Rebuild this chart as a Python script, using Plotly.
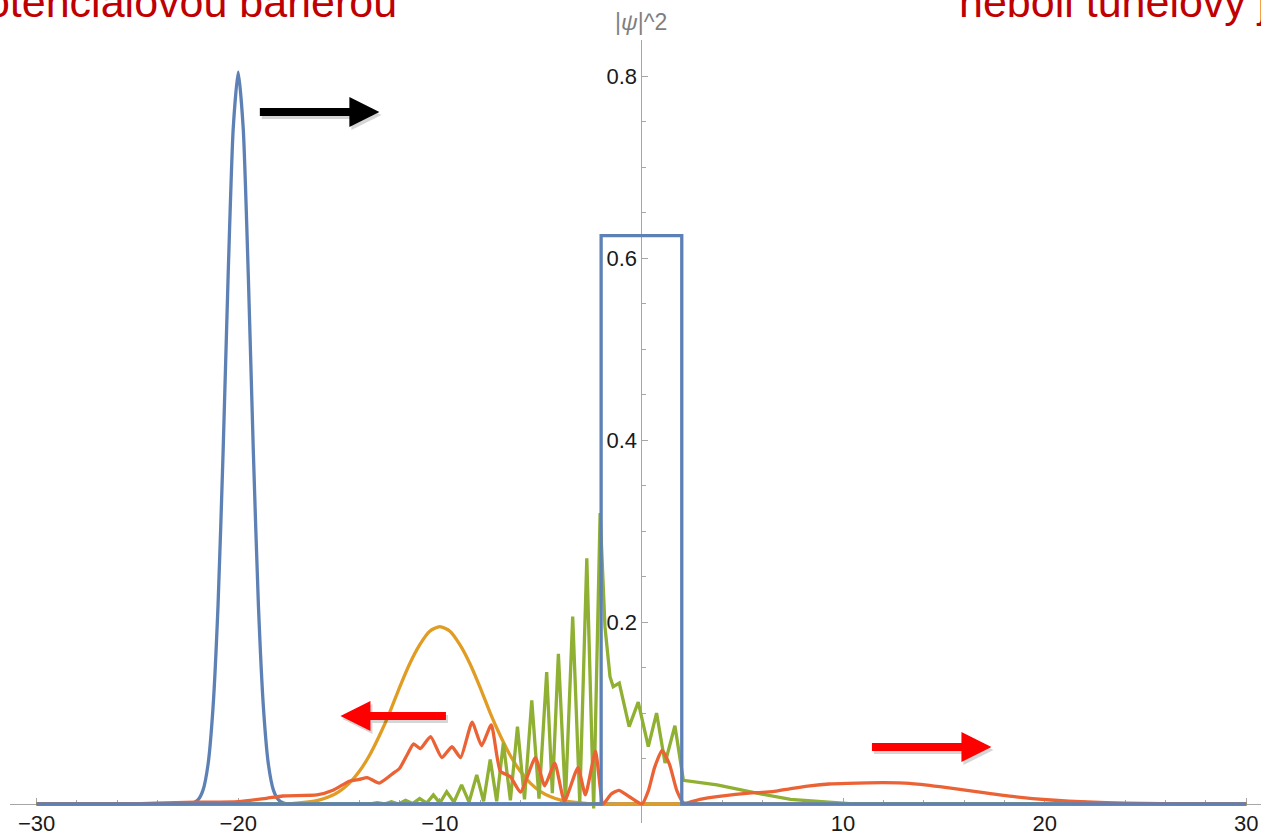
import plotly.graph_objects as go

# ---------------- data ----------------
# initial wave packet |psi|^2 (blue)
packet0_x = [-30, -24, -22.5, -22.25, -22.0, -21.75, -21.5, -21.25, -21.0, -20.75, -20.5,
             -20.25, -20.0, -19.75, -19.5, -19.25, -19.0, -18.75, -18.5, -18.25, -18.0,
             -17.75, -17.5, -16, 30]
packet0_y = [0, 0, 0, 0.001, 0.0044, 0.015, 0.043, 0.106, 0.219, 0.387, 0.581,
             0.742, 0.805, 0.742, 0.581, 0.387, 0.219, 0.106, 0.043, 0.015, 0.0044,
             0.001, 0, 0, 0]

# potential barrier (blue)
barrier_x = [-30, -2, -2, 2, 2, 30]
barrier_y = [0, 0, 0.625, 0.625, 0, 0]

# packet approaching the barrier (orange)
packet1_x = [-30, -19, -17.5, -17, -16.5, -16, -15.5, -15, -14.5, -14, -13.5, -13, -12.5,
             -12, -11.5, -11, -10.5, -10, -9.5, -9, -8.5, -8, -7.5, -7, -6.5, -6, -5.5,
             -5, -4.5, -4, -3.5, -3, -2.5, -1, 30]
packet1_y = [0, 0, 0, 0.0011, 0.0022, 0.0043, 0.0079, 0.0137, 0.0227, 0.0357, 0.053, 0.075,
             0.100, 0.128, 0.154, 0.175, 0.190, 0.195, 0.190, 0.175, 0.154, 0.128, 0.100,
             0.075, 0.053, 0.0357, 0.0227, 0.0137, 0.0079, 0.0043, 0.0022, 0.0011, 0, 0, 0]

# packet hitting the barrier (green)
packet2_x = [-30, -14, -13.45, -13.1, -12.75, -12.4, -12.05, -11.7, -11.35, -11.0, -10.65,
             -10.32, -10.0, -9.66, -9.3, -8.92, -8.55, -8.17, -7.83, -7.5, -7.18, -6.85,
             -6.5, -6.15, -5.8, -5.44, -5.08, -4.70, -4.42, -4.12, -3.77, -3.41, -3.06,
             -2.71, -2.37, -2.05, -1.81, -1.56, -1.40, -1.10, -0.61, -0.16, 0.34, 0.75,
             1.17, 1.66, 2.08, 3.75, 5.6, 7.4, 9.3, 10.5, 30]
packet2_y = [0, 0, 0, 0.0015, 0, 0.0025, 0, 0.004, 0.0005, 0.006, 0.001,
             0.010, 0.001, 0.0135, 0.002, 0.021, 0.002, 0.032, 0.003, 0.049, 0.003, 0.067,
             0.004, 0.085, 0.005, 0.114, 0.006, 0.145, 0.012, 0.165, 0.004, 0.206, 0.002,
             0.270, -0.005, 0.320, 0.195, 0.140, 0.129, 0.133, 0.085, 0.112, 0.063, 0.100,
             0.045, 0.086, 0.026, 0.021, 0.0124, 0.005, 0.0015, 0, 0]

# reflected and transmitted packets (red)
packet3_x = [-30, -25.5, -24.1, -22.1, -20.0, -18.6, -17.8, -16.1, -15.3, -14.5, -14.0,
             -13.6, -13.0, -12.3, -12.0, -11.6, -11.3, -10.96, -10.46, -9.9, -9.4, -8.97,
             -8.4, -7.93, -7.45, -7.0, -6.5, -6.0, -5.26, -4.8, -4.3, -3.82, -3.15, -2.78,
             -2.28, -1.9, -1.5, -1.12, -0.6, 0.03, 0.35, 0.65, 1.02, 1.4, 1.75, 2.1, 2.9,
             3.75, 5.6, 6.5, 7.4, 8.35, 9.3, 10.2, 12.0, 13.3, 14.8, 16.6, 18.5, 20.3,
             22.1, 24.0, 25.8, 27.5, 30]
packet3_y = [0, 0, 0.0008, 0.0019, 0.0027, 0.0062, 0.0088, 0.0099, 0.015, 0.025, 0.027,
             0.029, 0.023, 0.034, 0.039, 0.055, 0.066, 0.061, 0.074, 0.051, 0.063, 0.051,
             0.090, 0.064, 0.087, 0.036, 0.030, 0.013, 0.051, 0.020, 0.045, 0.003, 0.040, 0.010,
             0.058, 0.0, 0.011, 0.015, 0.008, 0.0, 0.015, 0.040, 0.059, 0.043, 0.015, 0.001, 0.005,
             0.008, 0.0124, 0.0135, 0.017, 0.020, 0.022, 0.0227, 0.0234, 0.0227, 0.019, 0.0135, 0.008, 0.0044,
             0.0022, 0.001, 0.0003, 0, 0]

x_ticks = [-30, -20, -10, 10, 20, 30]
y_ticks = [0.2, 0.4, 0.6, 0.8]
y_title = "|<i>ψ</i>|^2"
text_left = "potenciálovou bariérou"
text_right = "neboli tunelový jev"

# ---------------- styles ----------------
BLUE = "#5E81B5"
ORANGE = "#E19C24"
GREEN = "#8FB032"
RED = "#EB6235"
AX = "#a6a6a6"
LW = 3.3
FONT = "Liberation Sans, Arial, sans-serif"

fig = go.Figure()
fig.add_trace(go.Scatter(x=packet0_x, y=packet0_y, mode="lines",
                         line=dict(color=BLUE, width=LW, shape="spline", smoothing=0.6)))
fig.add_trace(go.Scatter(x=packet1_x, y=packet1_y, mode="lines",
                         line=dict(color=ORANGE, width=LW, shape="spline", smoothing=0.6)))
fig.add_trace(go.Scatter(x=packet2_x, y=packet2_y, mode="lines",
                         line=dict(color=GREEN, width=LW)))
fig.add_trace(go.Scatter(x=packet3_x, y=packet3_y, mode="lines",
                         line=dict(color=RED, width=LW, shape="spline", smoothing=0.5)))
fig.add_trace(go.Scatter(x=barrier_x, y=barrier_y, mode="lines",
                         line=dict(color=BLUE, width=LW)))

W, H = 1261, 835
ml, mr, mt, mb = 10, 0, 40, 12
plot_h = H - mt - mb
x_range = [-31.32, 30.73]
y_range = [-0.0209, 0.840]
x_axis_pos = (0 - y_range[0]) / (y_range[1] - y_range[0])
y_axis_pos = (0 - x_range[0]) / (x_range[1] - x_range[0])

fig.update_layout(
    width=W, height=H,
    margin=dict(l=ml, r=mr, t=mt, b=mb, pad=0),
    paper_bgcolor="white", plot_bgcolor="white",
    showlegend=False,
    font=dict(family=FONT, size=22, color="#1a1a1a"),
    xaxis=dict(range=x_range, domain=[0, 1], anchor="free", position=x_axis_pos,
               showline=True, linecolor=AX, linewidth=1, zeroline=False, showgrid=False,
               ticks="inside", ticklen=6, tickwidth=1, tickcolor=AX,
               tickmode="array", tickvals=x_ticks,
               tickfont=dict(family=FONT, size=22, color="#1a1a1a"),
               minor=dict(tickmode="linear", tick0=0, dtick=2, ticks="inside",
                          ticklen=3.5, tickcolor=AX, showgrid=False),
               layer="below traces", fixedrange=True),
    yaxis=dict(range=y_range, domain=[0, 1], anchor="free", position=y_axis_pos,
               side="left",
               showline=True, linecolor=AX, linewidth=1, zeroline=False, showgrid=False,
               ticks="inside", ticklen=6, tickwidth=1, tickcolor=AX,
               tickmode="array", tickvals=y_ticks,
               tickfont=dict(family=FONT, size=22, color="#1a1a1a"),
               minor=dict(tickmode="linear", tick0=0, dtick=0.05, ticks="inside",
                          ticklen=3.5, tickcolor=AX, showgrid=False),
               layer="below traces", fixedrange=True),
)

def paper_y(px):
    return 1 + (mt - px) / plot_h

def paper_x(px):
    return (px - ml) / (W - ml - mr)

annotations = [
    dict(x=0, xref="x", y=paper_y(22), yref="paper", text=y_title, showarrow=False,
         xanchor="center", yanchor="middle", font=dict(family=FONT, size=23, color="#7f7f7f")),
    dict(x=paper_x(399), xref="paper", y=paper_y(2), yref="paper", text=text_left,
         showarrow=False, xanchor="right", yanchor="middle",
         font=dict(family=FONT, size=43, color="#C00000")),
    dict(x=paper_x(957), xref="paper", y=paper_y(2), yref="paper", text=text_right,
         showarrow=False, xanchor="left", yanchor="middle",
         font=dict(family=FONT, size=43, color="#C00000")),
]

arrows = [
    # (x, y, ax, color)
    (-13.0, 0.7609, -121, "#000000"),
    (-14.93, 0.0968, 107, "#FF0000"),
    (17.36, 0.0627, -121, "#FF0000"),
]
for (ax_, ay_, dx, col) in arrows:
    annotations.append(dict(x=ax_, y=ay_, xref="x", yref="y", ax=dx, ay=0, text="",
                            showarrow=True, arrowhead=2, arrowsize=0.75, arrowwidth=8,
                            arrowcolor="rgba(0,0,0,0.16)", xshift=2, yshift=-3))
    annotations.append(dict(x=ax_, y=ay_, xref="x", yref="y", ax=dx, ay=0, text="",
                            showarrow=True, arrowhead=2, arrowsize=0.75, arrowwidth=8,
                            arrowcolor=col))

fig.update_layout(annotations=annotations)

fig.write_html("out.html", config={"displayModeBar": False, "responsive": False})
